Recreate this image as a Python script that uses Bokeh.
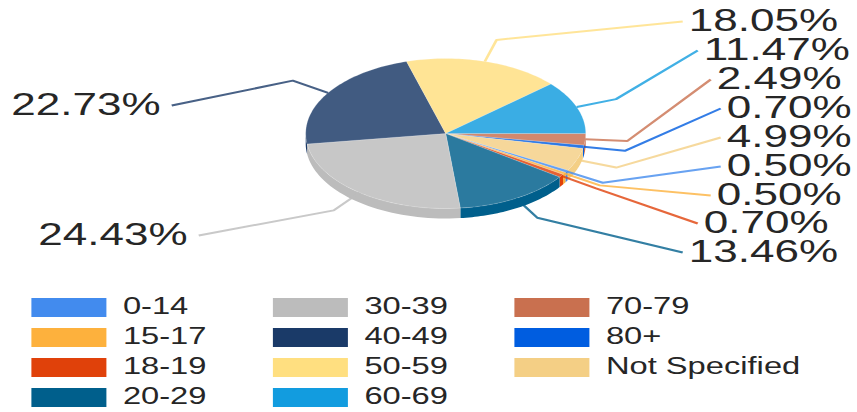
import math
from bokeh.core.properties import value
from bokeh.plotting import figure
from bokeh.models import Legend, LegendItem, Range1d
from bokeh.embed import file_html
from bokeh.resources import INLINE

categories = ["0-14", "15-17", "18-19", "20-29", "30-39", "40-49", "50-59", "60-69", "70-79", "80+", "Not Specified"]
shares = [0.50, 0.50, 0.70, 13.46, 24.43, 22.73, 18.05, 11.47, 2.49, 0.70, 4.99]
colors = ["#428bee", "#fdb13d", "#e0410a", "#005f8c", "#bcbcbc", "#1a3a68", "#ffdf80", "#129cdf", "#c9704f", "#005de0", "#f4cf85"]
slice_order = ["70-79", "80+", "Not Specified", "0-14", "15-17", "18-19", "20-29", "30-39", "40-49", "50-59", "60-69"]

# layout (page pixels)
STRETCH = 841 / 592
CX, CY, RX, RY, DEPTH, ELBOW = 445, 133, 140, 75, 10, 1.3
label_place = {
    "50-59": (688, 20), "60-69": (703, 49), "70-79": (716, 78), "80+": (726, 107),
    "Not Specified": (726, 136), "0-14": (726, 165), "15-17": (716, 194), "18-19": (703, 222),
    "20-29": (688, 251), "30-39": (187, 234), "40-49": (160, 104),
}

p = figure(width=592, height=412, output_backend="svg", toolbar_location=None,
           x_range=Range1d(0, 841 * STRETCH), y_range=Range1d(412, 0), min_border=0,
           outline_line_color=None, background_fill_color="white")
p.xaxis.visible = False
p.yaxis.visible = False
p.grid.visible = False
p.styles = {"transform": f"scaleX({STRETCH})", "transform-origin": "0 0"}


def rim(t):
    return CX + RX * math.cos(t), CY + RY * math.sin(t)


share_of = dict(zip(categories, shares))
color_of = dict(zip(categories, colors))
total = sum(shares)
arcs = {}
acc = 0.0
for name in slice_order:
    a0 = acc / total * 2 * math.pi
    acc += share_of[name]
    arcs[name] = (a0, acc / total * 2 * math.pi)

# side wall
for name in slice_order:
    a0, a1 = arcs[name]
    lo, hi = max(a0, 0), min(a1, math.pi)
    if hi <= lo:
        continue
    n = 40
    ts = [lo + (hi - lo) * i / n for i in range(n + 1)]
    xs = [rim(t)[0] for t in ts]
    ys = [rim(t)[1] for t in ts]
    p.patch(xs + xs[::-1], ys + [y + DEPTH for y in ys[::-1]], fill_color=color_of[name], line_color=None)

# top surface
for name in slice_order:
    a0, a1 = arcs[name]
    n = max(4, int((a1 - a0) * 40))
    ts = [a0 + (a1 - a0) * i / n for i in range(n + 1)]
    p.patch([CX] + [rim(t)[0] for t in ts], [CY] + [rim(t)[1] for t in ts],
            fill_color=color_of[name], fill_alpha=0.83, line_color="white", line_alpha=0.25, line_width=0.6)

# leaders and labels
for name in slice_order:
    a0, a1 = arcs[name]
    mid = (a0 + a1) / 2
    x0, y0 = rim(mid)
    ex, ey = CX + (x0 - CX) * ELBOW, CY + (y0 - CY) * ELBOW
    lx, ly = label_place[name]
    left_side = x0 < CX
    endx = lx + 11 if left_side else lx - 6
    p.line([x0, ex, endx], [y0, ey, ly + 1], line_color=color_of[name], line_width=2, line_alpha=0.8)
    p.text([lx], [ly], text=[f"{share_of[name]:.2f}%"], text_font=value("Liberation Sans"),
           text_font_size="31px", text_color="#262626", text_baseline="middle",
           text_align="right" if left_side else "left")

# legend
items = []
nan = float("nan")
for name, col in zip(categories, colors):
    r = p.quad(left=[nan], right=[nan], top=[nan], bottom=[nan], fill_color=col, line_color=None)
    items.append(LegendItem(label=name, renderers=[r]))
legend = Legend(items=items, nrows=4, location=(14.5, 2), orientation="vertical",
                glyph_width=66, glyph_height=24, label_standoff=6, label_width=95, spacing=3, margin=0, padding=0,
                border_line_color=None, background_fill_alpha=0,
                label_text_font="Liberation Sans", label_text_font_size="23px", label_text_color="#262626")
p.add_layout(legend, "center")

open("out.html", "w").write(file_html(p, INLINE))
